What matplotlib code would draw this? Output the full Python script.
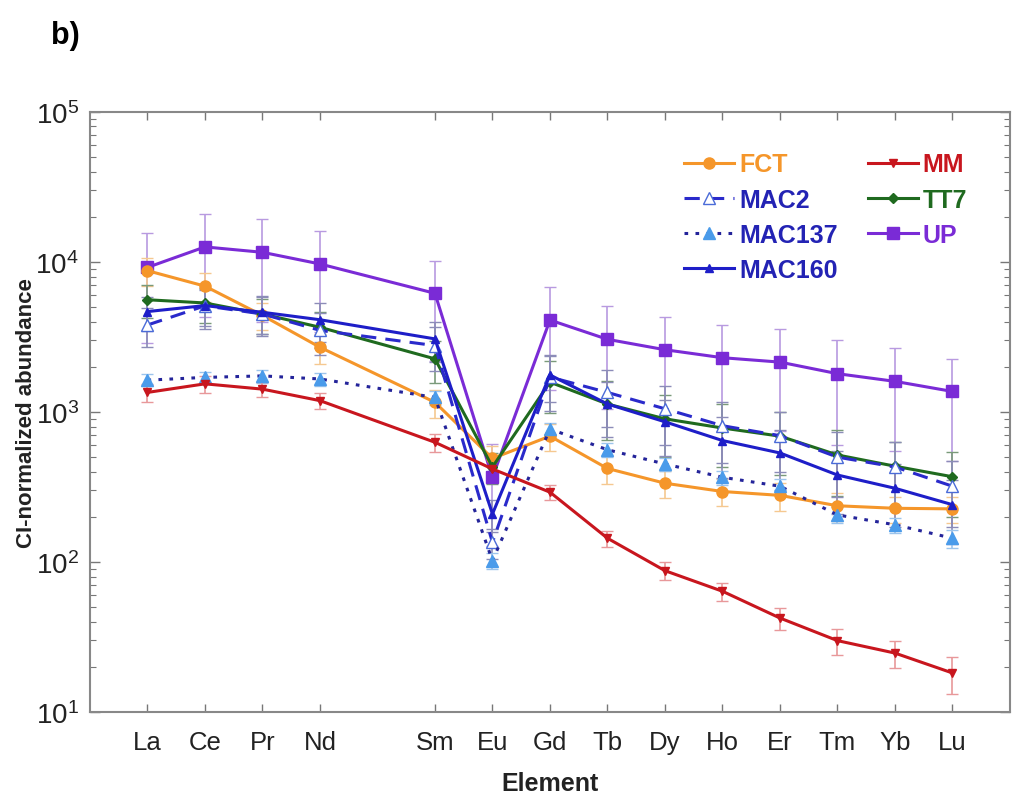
import matplotlib
matplotlib.use("Agg")
import matplotlib.pyplot as plt
import numpy as np

plt.rcParams['font.family'] = ['Liberation Sans', 'DejaVu Sans']

elements = ["La", "Ce", "Pr", "Nd", "Sm", "Eu", "Gd", "Tb", "Dy", "Ho", "Er", "Tm", "Yb", "Lu"]
positions = [0, 1, 2, 3, 5, 6, 7, 8, 9, 10, 11, 12, 13, 14]

FCT = [8750, 6900, 4400, 2700, 1160, 490, 690, 420, 335, 295, 278, 237, 228, 226]
MAC2 = [3800, 5100, 4500, 3500, 2770, 135, 1710, 1350, 1050, 810, 695, 500, 430, 320]
MAC137 = [1630, 1700, 1740, 1660, 1250, 102, 770, 560, 450, 367, 320, 206, 177, 144]
MAC160 = [4670, 5120, 4620, 4120, 3070, 209, 1765, 1130, 860, 645, 533, 380, 310, 241]
MM = [1350, 1540, 1420, 1190, 628, 417, 292, 144, 87.5, 63.8, 42.3, 29.9, 24.7, 18.2]
TT7 = [5600, 5330, 4500, 3670, 2260, 430, 1580, 1130, 900, 782, 690, 517, 435, 370]
UP = [9200, 12600, 11600, 9700, 6180, 367, 4100, 3050, 2600, 2300, 2150, 1800, 1600, 1370]

FCT_err = [1800, 1500, 900, 600, 250, 100, 140, 90, 70, 60, 60, 50, 45, 45]
MAC2_err = [1100, 1500, 1300, 1100, 900, 30, 700, 550, 450, 350, 300, 230, 200, 150]
MAC137_err = [150, 160, 170, 160, 130, 12, 80, 60, 45, 40, 35, 25, 20, 20]
MAC160_err = [1200, 1400, 1300, 1200, 900, 50, 600, 450, 350, 280, 230, 170, 140, 110]
MM_err = [180, 200, 170, 150, 90, 50, 35, 18, 12, 9, 7, 6, 5, 5]
TT7_err = [1400, 1400, 1200, 1000, 700, 100, 600, 480, 400, 350, 310, 240, 200, 170]
UP_err = [6300, 8300, 7600, 6300, 4000, 240, 2700, 2000, 1700, 1500, 1400, 1200, 1050, 900]

fig = plt.figure(figsize=(10.13, 8.04), dpi=100)
ax = fig.add_axes([0.0888, 0.1132, 0.9082, 0.7463])

series = [
    ("UP", UP, UP_err, dict(color="#7A2BD6", ls="-", marker="s", ms=9, mfc="#7A2BD6", mec="#7A2BD6", lw=2.2), "#B89AE0"),
    ("FCT", FCT, FCT_err, dict(color="#F5962A", ls="-", marker="o", ms=8, mfc="#F5962A", mec="#F5962A", lw=2.2), "#F5C890"),
    ("TT7", TT7, TT7_err, dict(color="#1F6A1F", ls="-", marker="D", ms=5, mfc="#1F6A1F", mec="#1F6A1F", lw=2.2), "#7A9A7A"),
    ("MAC2", MAC2, MAC2_err, dict(color="#2A2ACB", ls=(0, (5, 3)), marker="^", ms=8, mfc="white", mec="#4A6BD8", lw=2.2), "#8C8CB8"),
    ("MAC160", MAC160, MAC160_err, dict(color="#1E1EC8", ls="-", marker="^", ms=6, mfc="#1E1EC8", mec="#1E1EC8", lw=2.2), "#8C8CB8"),
    ("MAC137", MAC137, MAC137_err, dict(color="#24249A", ls=(0, (1.2, 2.4)), marker="^", ms=8, mfc="#4A9BEA", mec="#4A9BEA", lw=2.2), "#9CC4EC"),
    ("MM", MM, MM_err, dict(color="#C8161E", ls="-", marker="v", ms=6, mfc="#C8161E", mec="#C8161E", lw=2.2), "#E8989A"),
]

handles = {}
for name, vals, err, style, ecol in series:
    ax.errorbar(positions, vals, yerr=err, fmt="none", ecolor=ecol, elinewidth=1.2,
                capsize=4, capthick=1.0, zorder=2)
    h, = ax.plot(positions, vals, zorder=3, **style)
    handles[name] = h

ax.set_yscale("log")
ax.set_ylim(10, 1e5)
ax.set_xlim(-1, 15)
ax.set_xticks(positions)
ax.set_xticklabels(elements)
ax.tick_params(axis="x", which="major", direction="in", length=6, width=1, colors="#777777",
               labelcolor="#222222", labelsize=18.5, pad=13, top=True)
ax.tick_params(axis="y", which="major", direction="in", length=7, width=1, colors="#777777",
               labelcolor="#222222", labelsize=20, pad=8, right=True)
ax.tick_params(axis="y", which="minor", direction="in", length=4, width=0.8, colors="#777777", right=True)
for s in ax.spines.values():
    s.set_color("#888888")
    s.set_linewidth(1.5)

ax.set_xlabel("Element", fontsize=18, fontweight="bold", labelpad=12, color="#222222")
ax.set_ylabel("CI-normalized abundance", fontsize=16, fontweight="bold", color="#222222",
              va="center")
ax.yaxis.set_label_coords(-0.069, 0.5)

order = ["FCT", "MAC2", "MAC137", "MAC160", "MM", "TT7", "UP"]
textcolors = {"FCT": "#F5962A", "MAC2": "#2323B4", "MAC137": "#2323B4", "MAC160": "#2323B4",
              "MM": "#C8161E", "TT7": "#1F6A1F", "UP": "#7A2BD6"}
leg = ax.legend([handles[n] for n in order], order, ncol=2, loc="upper right",
                bbox_to_anchor=(0.978, 0.97), frameon=False,
                prop=dict(weight="bold", size=18), handlelength=2.0, handletextpad=0.2,
                columnspacing=1.2, labelspacing=0.45)
for t in leg.get_texts():
    t.set_color(textcolors[t.get_text()])

fig.text(0.05, 0.955, "b)", fontsize=22, fontweight="bold", va="center")

fig.savefig("out.png", dpi=100)
